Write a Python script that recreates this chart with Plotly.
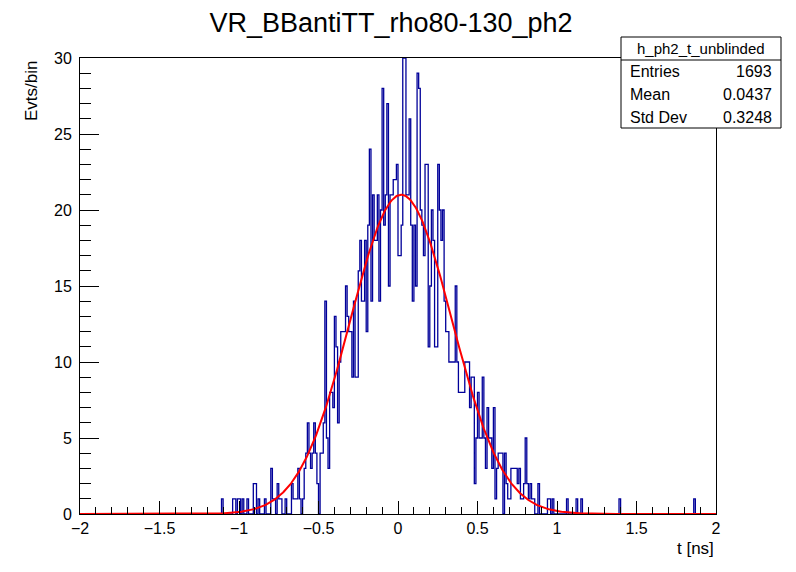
import plotly.graph_objects as go
import numpy as np

# histogram h_ph2_t_unblinded: 400 bins from -2 to 2 ns (0.01 ns wide)
x_min, x_max, n_bins = -2.0, 2.0, 400
counts = (
    [0] * 80
    + [0, 0, 0, 0, 0, 0, 0, 0, 0, 1]          # 80-89
    + [0, 0, 0, 0, 0, 0, 1, 1, 0, 1]          # 90-99
    + [1, 0, 1, 0, 0, 1, 0, 0, 0, 2]          # 100-109
    + [2, 0, 1, 0, 0, 0, 1, 0, 0, 0]          # 110-119
    + [3, 1, 1, 0, 2, 1, 1, 0, 0, 1]          # 120-129
    + [0, 0, 0, 2, 1, 1, 1, 3, 1, 0]          # 130-139
    + [1, 3, 4, 6, 4, 3, 4, 6, 4, 2]          # 140-149
    + [0, 4, 4, 6, 14, 5, 3, 8, 8, 7]         # 150-159
    + [13, 11, 6, 10, 12, 12, 12, 15, 13, 12] # 160-169
    + [12, 9, 14, 9, 9, 16, 18, 14, 14, 18]   # 170-179
    + [12, 19, 24, 14, 21, 18, 18, 21, 14, 20]  # 180-189
    + [28, 19, 21, 27, 15, 21, 21, 22, 22, 23]  # 190-199
    + [17, 17, 19, 30, 30, 21, 21, 26, 19, 14]  # 200-209
    + [19, 15, 29, 28, 20, 19, 17, 23, 23, 11]  # 210-219
    + [15, 20, 18, 11, 11, 23, 20, 18, 20, 14]  # 220-229
    + [12, 12, 10, 10, 10, 10, 15, 10, 8, 8]  # 230-239
    + [8, 8, 10, 10, 10, 7, 9, 9, 2, 5]       # 240-249
    + [8, 5, 5, 9, 5, 3, 7, 5, 5, 3]          # 250-259
    + [7, 1, 3, 4, 4, 4, 0, 4, 2, 1]          # 260-269
    + [1, 3, 3, 3, 3, 2, 3, 1, 1, 2]          # 270-279
    + [5, 2, 1, 2, 1, 1, 0, 0, 2, 0]          # 280-289
    + [0, 0, 0, 0, 1, 1, 0, 1, 0, 0]          # 290-299
    + [0, 0, 0, 0, 0, 0, 1, 0, 0, 0]          # 300-309
    + [0, 0, 1, 0, 0, 1, 0, 0, 0, 0]          # 310-319
    + [0] * 19 + [1]                          # 320-339
    + [0] * 46 + [1]                          # 340-386
    + [0] * 13                                # 387-399
)

# gaussian fit drawn in red
fit_amp, fit_mean, fit_sigma = 21.0, 0.02, 0.32

stats_name = "h_ph2_t_unblinded"
stats_labels = ["Entries", "Mean", "Std Dev"]
stats_values = ["1693", "0.0437", "0.3248"]

edges = np.linspace(x_min, x_max, n_bins + 1)
xf = np.linspace(x_min, x_max, 801)
yf = fit_amp * np.exp(-0.5 * ((xf - fit_mean) / fit_sigma) ** 2)

fig = go.Figure()
fig.add_trace(go.Scatter(x=edges, y=counts + [counts[-1]], mode='lines',
                         line=dict(color='#000099', width=1.3, shape='hv'),
                         hoverinfo='skip'))
fig.add_trace(go.Scatter(x=xf, y=yf, mode='lines',
                         line=dict(color='#ff0000', width=2)))

font = "Liberation Sans, Arial, sans-serif"
OFF = 8  # page body margin
W, H = 796 - OFF, 572 - OFF
L, R, T, B = 80, 716, 58, 514   # frame in page pixels


def px(x):
    return (x - L) / (R - L)


def py(y):
    return (B - y) / (B - T)


fig.update_layout(
    width=W, height=H, autosize=False,
    margin=dict(l=L - OFF, r=796 - R, t=T - OFF, b=572 - B),
    paper_bgcolor='white', plot_bgcolor='white',
    showlegend=False,
    font=dict(family=font, size=16, color='black'),
    title=dict(text="VR_BBantiTT_rho80-130_ph2", x=(391 - OFF) / W, xanchor='center',
               y=1 - (23 - OFF) / H, yanchor='middle', font=dict(size=27)),
    xaxis=dict(range=[x_min, x_max], dtick=0.5, tick0=0, ticks='inside',
               ticklen=13, tickcolor='black', showgrid=False, zeroline=False,
               showline=True, linecolor='black', linewidth=1, mirror=True,
               minor=dict(dtick=0.1, ticks='inside', ticklen=7, tickcolor='black'),
               tickfont=dict(size=16)),
    yaxis=dict(range=[0, 30], dtick=5, ticks='inside', ticklen=19,
               tickcolor='black', showgrid=False, zeroline=False,
               showline=True, linecolor='black', linewidth=1, mirror=True,
               minor=dict(dtick=1, ticks='inside', ticklen=11, tickcolor='black'),
               tickfont=dict(size=16), ticklabelstandoff=4),
)

# axis titles, ROOT style
fig.add_annotation(text="t [ns]", xref='paper', yref='paper', x=1, y=py(548),
                   xanchor='right', yanchor='middle', showarrow=False,
                   font=dict(size=17))
fig.add_annotation(text="Evts/bin", xref='paper', yref='paper', x=px(32), y=py(91),
                   xanchor='center', yanchor='middle', textangle=-90,
                   showarrow=False, font=dict(size=17))

# stats box
fig.add_shape(type='rect', xref='paper', yref='paper', x0=px(621), x1=px(781),
              y0=py(128), y1=py(37), fillcolor='white',
              line=dict(color='black', width=1), layer='above')
fig.add_shape(type='line', xref='paper', yref='paper', x0=px(621), x1=px(781),
              y0=py(60), y1=py(60), line=dict(color='black', width=1), layer='above')
fig.add_annotation(text=stats_name, xref='paper', yref='paper', x=px(701), y=py(48),
                   xanchor='center', yanchor='middle', showarrow=False,
                   font=dict(size=15))
for k, (lab, val) in enumerate(zip(stats_labels, stats_values)):
    yy = py(72 + 23 * k)
    fig.add_annotation(text=lab, xref='paper', yref='paper', x=px(628), y=yy,
                       xanchor='left', yanchor='middle', showarrow=False,
                       font=dict(size=16))
    fig.add_annotation(text=val, xref='paper', yref='paper', x=px(774), y=yy,
                       xanchor='right', yanchor='middle', showarrow=False,
                       font=dict(size=16))

fig.write_html("out.html")
